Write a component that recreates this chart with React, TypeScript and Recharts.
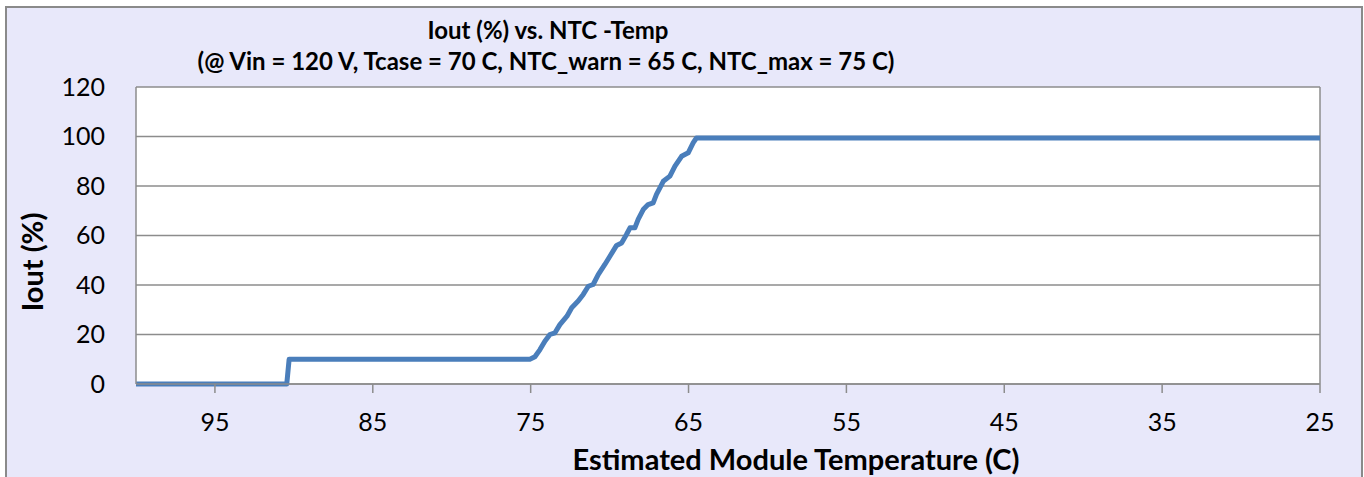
import React from 'react';
import { LineChart, Line, XAxis, YAxis, CartesianGrid, ReferenceLine } from 'recharts';

// values
const temps = [
  100, 90.45, 90.3, 75.05, 74.73, 74.41, 74.1, 73.78, 73.46, 73.15, 72.7, 72.4, 71.99,
  71.67, 71.35, 71.04, 70.72, 70.3, 69.98, 69.56, 69.24, 68.93, 68.71, 68.4, 68.19,
  67.87, 67.56, 67.24, 67.03, 66.6, 66.18, 65.86, 65.44, 65.02, 64.7, 64.5, 25,
];
const iout = [
  0, 0, 10, 10, 11, 13.9, 17.3, 20, 20.7, 24, 27.4, 30.8, 33.5,
  36.2, 39.5, 40.2, 44.2, 48.3, 51.6, 56, 57, 60.4, 63.1, 63.1, 66.5,
  70.5, 72.5, 73.2, 76.6, 81.9, 84, 88, 92, 93.4, 97.5, 99.4, 99.4,
];
const xTicks = [95, 85, 75, 65, 55, 45, 35, 25];
const yTicks = [0, 20, 40, 60, 80, 100, 120];

const titleLine1 = 'Iout (%) vs. NTC -Temp';
const titleLine2 = '(@ Vin = 120 V, Tcase = 70 C, NTC_warn = 65 C, NTC_max = 75 C)';
const xTitle = 'Estimated Module Temperature (C)';
const yTitle = 'Iout (%)';

const data = temps.map((t, i) => ({ temp: t, iout: iout[i] }));

const FONT = 'Lato, "Open Sans", sans-serif';
const GRID = '#8c8c8c';

export default function App() {
  return (
    <div style={{ position: 'absolute', left: 0, top: 0, width: 1364, height: 477, overflow: 'hidden', fontFamily: FONT }}>
      <div
        style={{
          position: 'absolute', left: 5, top: 6, width: 1358, height: 500,
          background: '#e8e8fa', border: '2px solid #8a8a8a', boxSizing: 'border-box',
        }}
      />
      <div style={{ position: 'absolute', left: 548, top: 30, transform: 'translate(-50%, -50%)', fontWeight: 700, fontSize: 24, lineHeight: 1, whiteSpace: 'nowrap' }}>
        {titleLine1}
      </div>
      <div style={{ position: 'absolute', left: 546, top: 61, transform: 'translate(-50%, -50%)', fontWeight: 700, fontSize: 24, lineHeight: 1, whiteSpace: 'nowrap' }}>
        {titleLine2}
      </div>
      <div style={{ position: 'absolute', left: 31, top: 262, transform: 'translate(-50%, -50%) rotate(-90deg)', fontWeight: 700, fontSize: 29, lineHeight: 1, whiteSpace: 'nowrap' }}>
        {yTitle}
      </div>
      <div style={{ position: 'absolute', left: 796, top: 458, transform: 'translate(-50%, -50%)', fontWeight: 700, fontSize: 29, lineHeight: 1, whiteSpace: 'nowrap' }}>
        {xTitle}
      </div>
      <div style={{ position: 'absolute', left: 0, top: 0 }}>
        <LineChart width={1364} height={477} data={data} margin={{ top: 87, right: 44, left: 0, bottom: 0 }}>
          <CartesianGrid vertical={false} stroke={GRID} strokeWidth={1.5} fill="#ffffff" fillOpacity={1} />
          <XAxis
            dataKey="temp"
            type="number"
            domain={[25, 100]}
            reversed
            ticks={xTicks}
            height={93}
            stroke={GRID}
            strokeWidth={1.5}
            tickSize={9}
            tickMargin={20}
            tick={{ fill: '#000', fontSize: 25, fontFamily: FONT }}
            allowDataOverflow
          />
          <YAxis
            type="number"
            domain={[0, 120]}
            ticks={yTicks}
            width={136}
            stroke={GRID}
            strokeWidth={1.5}
            tickLine={false}
            tickSize={0}
            tickMargin={31}
            tick={{ fill: '#000', fontSize: 25, fontFamily: FONT }}
          />
          <ReferenceLine x={25} stroke={GRID} strokeWidth={1.5} />
          <Line
            type="linear"
            dataKey="iout"
            stroke="#4a7ebb"
            strokeWidth={5}
            dot={false}
            strokeLinejoin="round"
            isAnimationActive={false}
          />
        </LineChart>
      </div>
    </div>
  );
}
